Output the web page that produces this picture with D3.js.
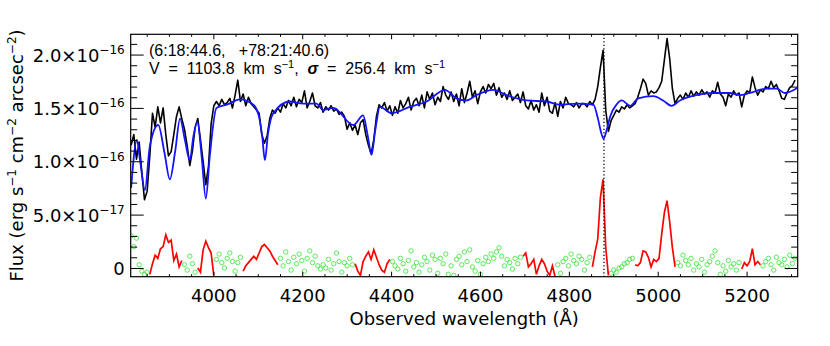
<!DOCTYPE html>
<html>
<head>
<meta charset="utf-8">
<script src="https://cdn.jsdelivr.net/npm/d3@7"></script>
<style>
  body { margin: 0; background: #fff; }
  svg { display: block; }
  .axis text { font-family: "DejaVu Sans", sans-serif; font-size: 18px; fill: #000; }
  .axis path.domain { display: none; }
  .axis line { stroke: #000; stroke-width: 1; }
  .lab { font-family: "DejaVu Sans", sans-serif; font-size: 18px; fill: #000; }
  .info { font-family: "Liberation Sans", Arial, sans-serif; font-size: 16px; fill: #000; white-space: pre; }
</style>
</head>
<body>
<div id="chart"></div>
<script>
// flux values are in units of 1e-17 erg s^-1 cm^-2 arcsec^-2
const waveStart = 3815, waveStep = 6;   // sampling of the observed spectrum

const observed = [
  11.5, 12.5, 10.2, 11.8, 9.0, 6.4, 7.2, 10.5, 14.5, 13.2,
  15.1, 13.6, 15.0, 12.5, 10.5, 10.9, 12.5, 14.2, 15.1, 14.0,
  13.0, 11.5, 9.6, 11.0, 13.2, 14.0, 12.0, 10.0, 7.8, 9.5,
  13.5, 15.2, 15.6, 15.2, 15.8, 15.3, 15.5, 15.9, 15.0, 16.2,
  17.6, 15.6, 16.3, 15.2, 16.0, 15.4, 15.1, 14.8, 14.5, 12.5,
  11.7, 12.4, 14.0, 14.8, 14.5, 15.0, 14.6, 15.4, 15.0, 15.7,
  15.2, 16.0, 15.1, 15.8, 15.5, 16.6, 15.0, 15.6, 16.4, 15.2,
  15.0, 15.5, 14.6, 15.1, 14.8, 15.2, 14.7, 14.9, 14.4, 14.6,
  14.2, 13.0, 13.6, 12.9, 13.4, 12.5, 13.6, 13.9, 12.5, 11.5,
  10.7, 12.0, 14.2, 15.3, 15.0, 15.5, 14.7, 15.2, 14.3, 15.1,
  14.5, 15.7, 15.0, 15.4, 16.0, 14.8, 15.6, 15.9, 15.2, 16.2,
  15.0, 16.5, 15.8, 16.4, 15.3, 16.0, 15.6, 17.0, 16.2, 15.8,
  16.5, 15.6, 16.3, 15.2, 16.8, 15.5, 16.4, 17.5, 16.0, 16.6,
  15.4, 16.5, 17.0, 16.4, 17.2, 16.8, 17.3, 16.2, 16.9, 16.0,
  16.4, 15.8, 16.6, 15.7, 16.0, 16.3, 15.5, 16.5, 15.2, 14.9,
  15.7, 14.8, 15.3, 14.6, 16.4, 15.2, 16.0, 14.7, 14.5, 15.5,
  14.2, 15.6, 15.0, 16.0, 15.4, 15.3, 15.1, 15.5, 15.0, 15.4,
  15.4, 15.1, 15.6, 15.3, 15.8, 17.0, 18.8, 20.4, 14.8, 12.8,
  13.8, 14.3, 14.8, 14.6, 15.1, 14.9, 15.3, 15.0, 15.2, 15.4,
  16.0, 16.8, 17.7, 17.3, 16.2, 16.6, 16.4, 16.5, 16.9, 17.5,
  19.5, 21.5, 19.6, 16.8, 15.4, 15.9, 16.2, 15.8, 16.4, 16.0,
  16.6, 16.1, 16.5, 16.2, 16.7, 16.3, 16.5, 16.0, 16.6, 16.4,
  17.4, 16.3, 16.0, 15.2, 16.3, 16.0, 16.6, 16.2, 16.4, 15.1,
  16.2, 16.6, 16.4, 17.9, 16.9, 16.2, 16.7, 16.5, 17.0, 16.8,
  17.5, 16.9, 17.2, 16.6, 15.9, 15.8, 16.4, 16.9, 17.1, 17.6
];

const residual = [
  3.0, 2.0, 2.8, 0.3, -0.3, -0.6, -0.4, -0.6, 0.4, 1.2,
  0.9, 1.8, 2.0, 3.1, 2.4, 2.6, 0.7, 1.3, 0.1, 0.7,
  0.3, -0.2, 1.1, 0.4, -0.4, 0.0, -0.4, 1.7, 2.5, 1.9,
  1.4, -0.7, 0.8, 1.3, 0.5, 0.0, 0.9, 1.4, 0.6, -0.3,
  0.5, 1.0, -0.3, 0.2, 0.5, 0.8, 1.1, 0.8, 1.4, 2.0,
  2.2, 1.9, 1.6, 1.1, 0.7, 0.3, 0.9, 0.2, 1.5, 0.6,
  -0.2, 1.0, 0.4, 1.3, 0.7, -0.3, 0.9, 1.6, 0.5, 1.1,
  0.2, -0.1, 0.3, 0.0, 0.8, -0.2, 0.4, 1.4, 0.6, -0.4,
  0.5, 0.2, 0.9, 0.3, 0.4, -0.3, -0.7, 0.6, 1.1, 1.5,
  0.8, 1.7, 1.0, 0.3, -0.2, -0.4, 0.4, 0.8, 0.6, 0.2,
  -0.1, 0.9, 0.4, -0.3, 0.7, 1.6, 0.1, 0.5, -0.4, 0.3,
  1.0, 0.6, -0.2, 1.2, 0.8, -0.5, 0.9, 0.4, 1.3, -0.6,
  0.2, -0.7, 0.8, 1.1, 0.3, 1.5, 0.6, 1.7, 0.1, -0.3,
  0.7, -0.6, 0.4, 1.0, 0.6, 1.3, 0.9, 1.5, 1.9, 1.1,
  0.2, 0.8, 0.5, -0.1, 0.9, 0.4, 1.0, 1.1, 1.4, 0.1,
  0.4, 0.8, -0.6, 0.2, 0.8, 0.4, -0.3, -0.7, 0.2, -0.8,
  0.3, -0.5, 0.6, 0.9, 0.2, 1.3, 0.7, 0.4, 1.1, 0.8,
  -0.2, 0.5, 1.0, 0.1, 1.5, 2.7, 6.6, 8.3, 1.9, -0.7,
  -0.5, -0.2, -0.4, 0.0, 0.1, 0.4, 0.5, 0.8, 0.9, 0.3,
  0.2, 0.5, 1.6, 1.5, 1.0, 0.1, 0.8, 0.6, 0.9, 3.2,
  5.2, 6.3, 4.3, 1.9, 0.1, 0.5, 0.2, 1.2, 0.7, 0.3,
  0.9, -0.2, 0.4, 0.1, 0.8, -0.4, 0.3, 0.6, 1.1, 1.6,
  0.5, -0.6, 0.2, -0.3, 0.7, 0.1, 0.4, -0.2, 0.5, -0.1,
  0.5, 0.2, 0.6, 1.8, 0.3, 0.6, 0.3, 0.2, 0.6, 0.9,
  0.3, -0.2, 1.0, 0.5, 0.3, 0.8, 0.1, 1.2, 0.4, 0.9
];

// wavelength windows where the emission-line residual is drawn as a line
const gasWindows = [[3856, 3932], [3962, 4004], [4064, 4148], [4316, 4398],
                    [4694, 4770], [4852, 4890], [4946, 5040], [5188, 5234]];

// stellar model (blue)
const modelWave = [3815,3828,3835,3846,3857,3876,3890,3902,3914,3925,3936,3947,3955,3964,3974,
  3983,3992,4007,4030,4060,4090,4102,4110,4116,4123,4135,4172,4202,4232,4247,4270,4315,4337,4347,
  4356,4364,4375,4401,4442,4480,4521,4547,4570,4592,4630,4660,4705,4750,4780,4818,4855,4866,4872,
  4878,4885,4893,4907,4919,4938,4956,4990,5012,5031,5050,5087,5125,5162,5185,5207,5245,5268,5286,5315];
const modelFlux = [7.5,12.0,10.1,7.3,11.4,13.4,10.8,8.3,10.9,14.0,12.0,10.1,12.3,13.7,10.3,
  6.5,10.5,15.0,15.3,15.8,15.3,14.3,12.3,10.1,12.6,14.5,15.6,15.4,15.4,14.8,15.0,13.4,14.3,12.5,
  10.6,12.8,15.1,14.5,15.1,15.6,16.7,15.9,15.7,16.2,16.7,16.2,15.7,15.6,15.3,15.4,15.3,13.9,12.8,
  12.1,12.9,14.2,15.3,15.7,15.2,15.9,16.1,15.7,15.2,15.7,16.2,16.4,16.4,16.2,16.4,16.8,16.8,16.4,16.9];

const hbetaObs = 4879;

const xMajor = [4000, 4200, 4400, 4600, 4800, 5000, 5200];
const yMajor = [0, 5, 10, 15, 20];
const yLabelMant = ["0", "5.0×10", "1.0×10", "1.5×10", "2.0×10"];
const yLabelExp = ["", "−17", "−16", "−16", "−16"];

const width = 830, height = 346;
const margin = { top: 34.3, right: 32.3, bottom: 69.3, left: 130.7 };
const iw = width - margin.left - margin.right;
const ih = height - margin.top - margin.bottom;

const svg = d3.select("#chart").append("svg")
  .attr("width", width).attr("height", height);

const g = svg.append("g").attr("transform", `translate(${margin.left},${margin.top})`);

const x = d3.scaleLinear().domain([3814, 5315]).range([0, iw]);
const y = d3.scaleLinear().domain([-0.82, 21.9]).range([ih, 0]);

svg.append("defs").append("clipPath").attr("id", "plotclip")
  .append("rect").attr("width", iw).attr("height", ih);

const wave = observed.map((d, i) => waveStart + i * waveStep);
const inGas = w => gasWindows.some(r => w >= r[0] && w <= r[1]);

const plot = g.append("g").attr("clip-path", "url(#plotclip)");

// green residual points
plot.append("g").selectAll("circle")
  .data(residual.map((v, i) => ({ w: wave[i], v })).filter(d => !inGas(d.w)))
  .join("circle")
  .attr("cx", d => x(d.w)).attr("cy", d => y(d.v)).attr("r", 2.2)
  .attr("fill", "none").attr("stroke", "#33e633").attr("stroke-width", 0.8);

// red emission residual
const line = d3.line().x(d => x(d.w)).y(d => y(d.v));
gasWindows.forEach(r => {
  const seg = residual.map((v, i) => ({ w: wave[i], v })).filter(d => d.w >= r[0] && d.w <= r[1]);
  plot.append("path").datum(seg).attr("d", line)
    .attr("fill", "none").attr("stroke", "#ff0000").attr("stroke-width", 1.7);
});

// observed spectrum
plot.append("path")
  .datum(observed.map((v, i) => ({ w: wave[i], v })))
  .attr("d", line)
  .attr("fill", "none").attr("stroke", "#000").attr("stroke-width", 1.6)
  .attr("stroke-linejoin", "round");

// model
plot.append("path")
  .datum(modelWave.map((w, i) => ({ w, v: modelFlux[i] })))
  .attr("d", d3.line().x(d => x(d.w)).y(d => y(d.v)).curve(d3.curveMonotoneX))
  .attr("fill", "none").attr("stroke", "#1414ff").attr("stroke-width", 1.8);

// H-beta marker
g.append("line")
  .attr("x1", x(hbetaObs)).attr("x2", x(hbetaObs))
  .attr("y1", 0).attr("y2", ih)
  .attr("stroke", "#000").attr("stroke-width", 1.3).attr("stroke-dasharray", "1.3,2.2");

// axes
const xMinor = d3.range(3850, 5316, 50).filter(v => !xMajor.includes(v));
const yMinor = d3.range(1, 22, 1).filter(v => !yMajor.includes(v));

g.append("g").attr("class", "axis").attr("transform", `translate(0,${ih})`)
  .call(d3.axisBottom(x).tickValues(xMajor).tickSize(-5).tickPadding(13).tickFormat(d => d));
g.append("g").attr("class", "axis").attr("transform", `translate(0,${ih})`)
  .call(d3.axisBottom(x).tickValues(xMinor).tickSize(-2.5).tickFormat(""));
g.append("g").attr("class", "axis")
  .call(d3.axisTop(x).tickValues(xMajor).tickSize(-5).tickFormat(""));
g.append("g").attr("class", "axis")
  .call(d3.axisTop(x).tickValues(xMinor).tickSize(-2.5).tickFormat(""));
g.append("g").attr("class", "axis")
  .call(d3.axisLeft(y).tickValues(yMajor).tickSize(-13).tickFormat(""));
g.append("g").attr("class", "axis")
  .call(d3.axisLeft(y).tickValues(yMinor).tickSize(-6.5).tickFormat(""));
g.append("g").attr("class", "axis").attr("transform", `translate(${iw},0)`)
  .call(d3.axisRight(y).tickValues(yMajor).tickSize(-13).tickFormat(""));
g.append("g").attr("class", "axis").attr("transform", `translate(${iw},0)`)
  .call(d3.axisRight(y).tickValues(yMinor).tickSize(-6.5).tickFormat(""));

g.append("rect").attr("width", iw).attr("height", ih)
  .attr("fill", "none").attr("stroke", "#000").attr("stroke-width", 1.2);

// y tick labels with exponents
const yl = g.append("g");
yMajor.forEach((v, i) => {
  const t = yl.append("text").attr("class", "lab")
    .attr("x", -6).attr("y", y(v) + 7).attr("text-anchor", "end");
  t.append("tspan").text(yLabelMant[i]);
  if (yLabelExp[i]) t.append("tspan").attr("dy", -7.5).attr("font-size", 12).text(yLabelExp[i]);
});

// axis titles
svg.append("text").attr("class", "lab")
  .attr("x", margin.left + iw / 2).attr("y", 325).attr("text-anchor", "middle")
  .text("Observed wavelength (Å)");

const yt = svg.append("text").attr("class", "lab")
  .attr("transform", `translate(23,${margin.top + ih / 2}) rotate(-90)`)
  .attr("text-anchor", "middle");
[["Flux (erg s", 0], ["−1", 1], [" cm", 0], ["−2", 1], [" arcsec", 0], ["−2", 1], [")", 0]]
  .forEach(([s, sup], i, arr) => {
    const prevSup = i > 0 ? arr[i - 1][1] : 0;
    yt.append("tspan")
      .attr("dy", sup ? -7.5 : (prevSup ? 7.5 : 0))
      .attr("font-size", sup ? 12 : 18)
      .text(s);
  });

// info text
const info = svg.append("g");
info.append("text").attr("class", "info").attr("x", 149).attr("y", 55.5)
  .text("(6:18:44.6,   +78:21:40.6)");
const l2 = info.append("text").attr("class", "info").attr("x", 149).attr("y", 74);
l2.append("tspan").text("V  =  1103.8  km  s");
l2.append("tspan").attr("dy", -6).attr("font-size", 11).text("−1");
l2.append("tspan").attr("dy", 6).text(",  ");
l2.append("tspan").attr("font-style", "italic").attr("font-weight", "bold").text("σ");
l2.append("tspan").text("  =  256.4  km  s");
l2.append("tspan").attr("dy", -6).attr("font-size", 11).text("−1");
</script>
</body>
</html>
